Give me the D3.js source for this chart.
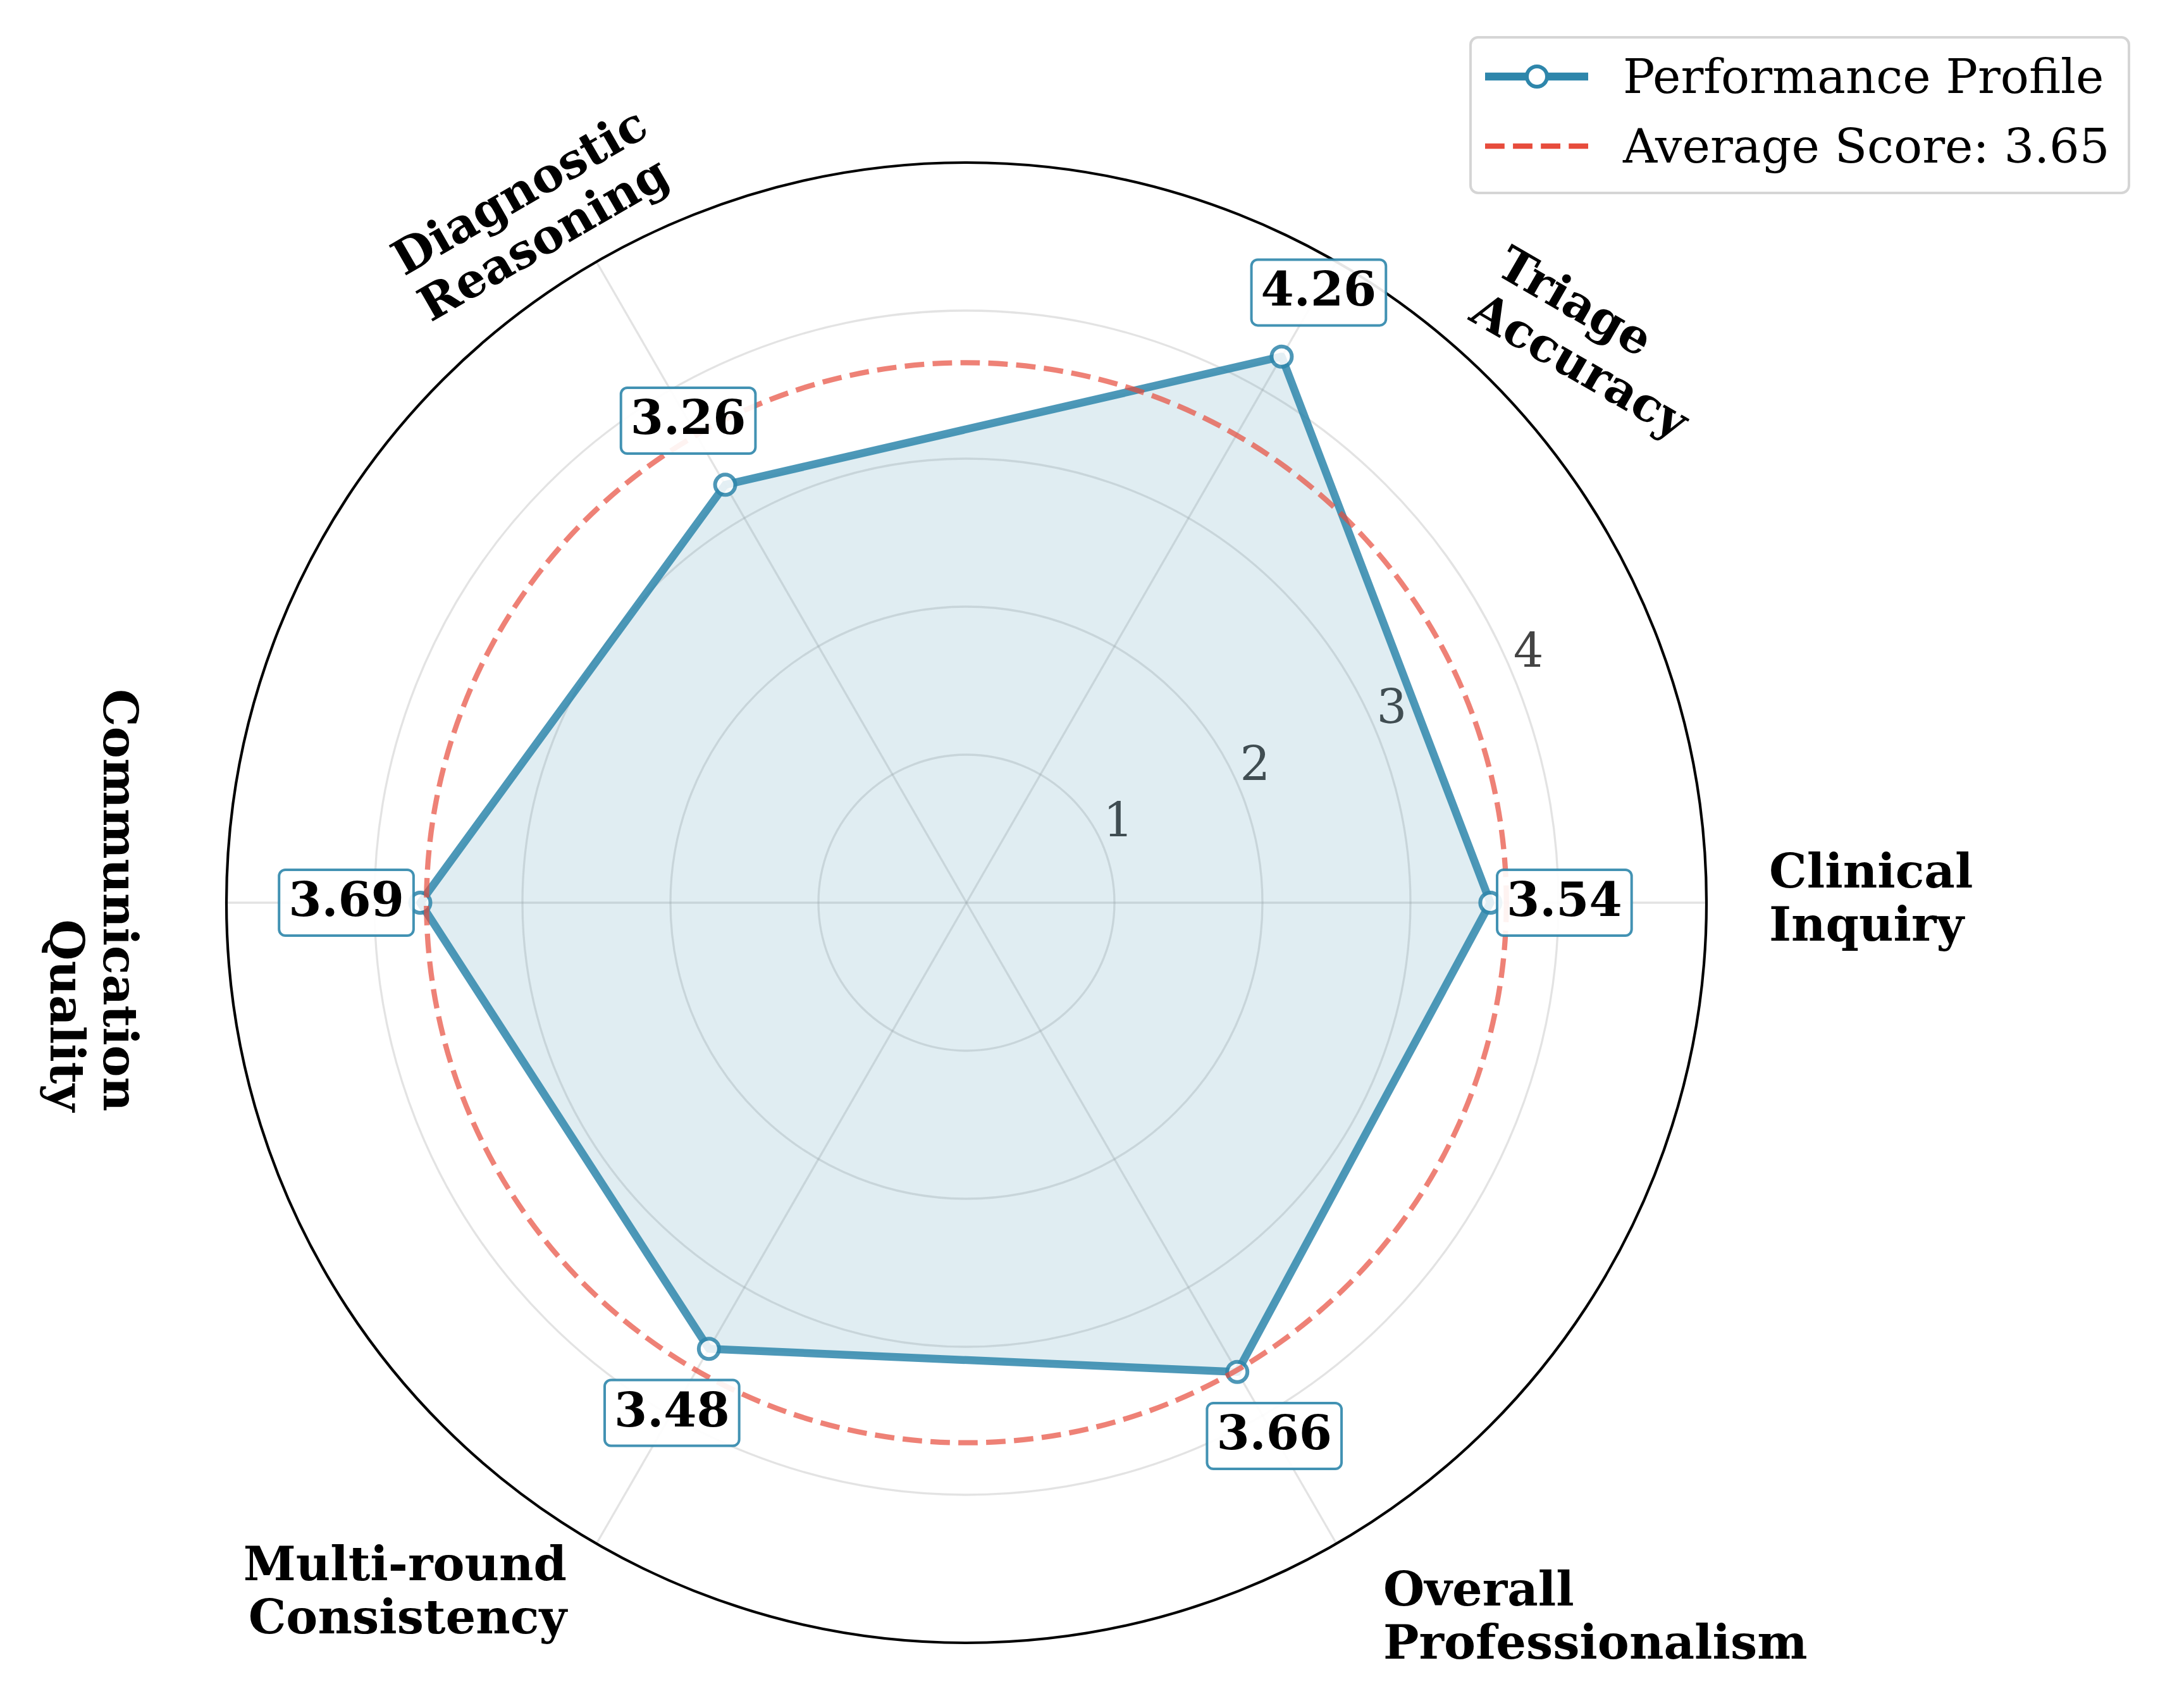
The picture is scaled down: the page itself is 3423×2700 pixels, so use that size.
<!DOCTYPE html>
<html>
<head>
<meta charset="utf-8">
<script src="https://cdn.jsdelivr.net/npm/d3@7"></script>
<style>
  body { margin: 0; background: #fff; }
  text { font-family: "DejaVu Serif", serif; }
</style>
</head>
<body>
<svg id="chart" width="3423" height="2700"></svg>
<script>
// data
var categories = ['Clinical\nInquiry', 'Triage\nAccuracy', 'Diagnostic\nReasoning',
                  'Communication\nQuality', 'Multi-round\nConsistency', 'Overall\nProfessionalism']
var scores = [3.54, 4.26, 3.26, 3.69, 3.48, 3.66]
var radialTicks = [1, 2, 3, 4]
var averageScore = d3.mean(scores)

var blue = '#2E86AB'
var red = '#E74C3C'
var cx = 1528, cy = 1427, R = 1170

// where the category names sit (offset from centre, rotation, alignment)
var labelLayout = [
    {dx: 1269, dy: -24, rot: 0, anchor: 'start'},
    {dx: 834, dy: -995, rot: 30, anchor: 'start'},
    {dx: -889, dy: -990, rot: -30, anchor: 'start'},
    {dx: -1364, dy: 330, rot: 90, anchor: 'end'},
    {dx: -632, dy: 1071, rot: 0, anchor: 'end'},
    {dx: 659, dy: 1111, rot: 0, anchor: 'start'}
]

var svg = d3.select('#chart')
svg.append('rect').attr('width', 3423).attr('height', 2700).attr('fill', '#fff')

var g = svg.append('g').attr('transform', 'translate(' + cx + ',' + cy + ')')

var r = d3.scaleLinear().domain([0, 5]).range([0, R])
var angle = d3.scaleLinear().domain([0, categories.length]).range([0, 2 * Math.PI])

function px(i, v) { return r(v) * Math.cos(angle(i)) }
function py(i, v) { return -r(v) * Math.sin(angle(i)) }

// grid rings and spokes
g.selectAll('.ring')
    .data(radialTicks)
    .enter()
    .append('circle')
    .attr('r', function(d) { return r(d) })
    .attr('fill', 'none')
    .attr('stroke', '#b0b0b0')
    .attr('stroke-opacity', 0.35)
    .attr('stroke-width', 3.3)

g.selectAll('.spoke')
    .data(categories)
    .enter()
    .append('line')
    .attr('x1', 0).attr('y1', 0)
    .attr('x2', function(d, i) { return px(i, 5) })
    .attr('y2', function(d, i) { return py(i, 5) })
    .attr('stroke', '#b0b0b0')
    .attr('stroke-opacity', 0.35)
    .attr('stroke-width', 3.3)

// radial tick labels at 22.5 deg
var tickAngle = 22.5 * Math.PI / 180
g.selectAll('.rtick')
    .data(radialTicks)
    .enter()
    .append('text')
    .attr('x', function(d) { return r(d) * Math.cos(tickAngle) })
    .attr('y', function(d) { return -r(d) * Math.sin(tickAngle) - 15 })
    .attr('font-size', 75)
    .attr('fill', '#444')
    .text(function(d) { return d })

// profile polygon
var points = scores.map(function(v, i) { return [px(i, v), py(i, v)] })
var line = d3.line().curve(d3.curveLinearClosed)

g.append('path')
    .attr('d', line(points))
    .attr('fill', blue)
    .attr('fill-opacity', 0.15)
    .attr('stroke', 'none')

g.append('path')
    .attr('d', line(points))
    .attr('fill', 'none')
    .attr('stroke', blue)
    .attr('stroke-opacity', 0.85)
    .attr('stroke-width', 12.5)
    .attr('stroke-linejoin', 'round')

g.selectAll('.dot')
    .data(points)
    .enter()
    .append('circle')
    .attr('cx', function(d) { return d[0] })
    .attr('cy', function(d) { return d[1] })
    .attr('r', 16)
    .attr('fill', '#fff')
    .attr('stroke', blue)
    .attr('stroke-width', 6)
    .attr('opacity', 0.85)

// average circle
g.append('circle')
    .attr('r', r(averageScore))
    .attr('fill', 'none')
    .attr('stroke', red)
    .attr('stroke-opacity', 0.7)
    .attr('stroke-width', 8.3)
    .attr('stroke-dasharray', '30.8,13.3')

// outer spine
g.append('circle')
    .attr('r', R)
    .attr('fill', 'none')
    .attr('stroke', '#000')
    .attr('stroke-width', 4.2)

// value labels in boxes
var vl = g.selectAll('.vlabel')
    .data(scores)
    .enter()
    .append('g')
    .attr('transform', function(d, i) {
        return 'translate(' + px(i, d + 0.5) + ',' + py(i, d + 0.5) + ')'
    })

vl.append('rect')
vl.append('text')
    .attr('text-anchor', 'middle')
    .attr('y', 21)
    .attr('font-size', 75)
    .attr('font-weight', 'bold')
    .attr('fill', '#000')
    .text(function(d) { return d.toFixed(2) })

vl.each(function() {
    var grp = d3.select(this)
    var bb = grp.select('text').node().getBBox()
    var w = bb.width + 30
    grp.select('rect')
        .attr('x', -w / 2)
        .attr('y', -52)
        .attr('width', w)
        .attr('height', 104)
        .attr('rx', 10)
        .attr('fill', '#fff')
        .attr('fill-opacity', 0.9)
        .attr('stroke', blue)
        .attr('stroke-opacity', 0.9)
        .attr('stroke-width', 4)
})

// category labels
var cl = g.selectAll('.clabel')
    .data(categories)
    .enter()
    .append('text')
    .attr('transform', function(d, i) {
        var L = labelLayout[i]
        return 'translate(' + L.dx + ',' + L.dy + ') rotate(' + L.rot + ')'
    })
    .attr('text-anchor', function(d, i) { return labelLayout[i].anchor })
    .attr('font-size', 75)
    .attr('font-weight', 'bold')
    .attr('fill', '#000')

cl.selectAll('tspan')
    .data(function(d) { return d.split('\n') })
    .enter()
    .append('tspan')
    .attr('x', 0)
    .attr('y', function(d, j) { return j * 84 })
    .text(function(d) { return d })

// legend
var lg = svg.append('g')
lg.append('rect')
    .attr('x', 2325).attr('y', 59)
    .attr('width', 1041).attr('height', 246)
    .attr('rx', 12)
    .attr('fill', '#fff')
    .attr('fill-opacity', 0.8)
    .attr('stroke', '#d5d5d5')
    .attr('stroke-width', 4)

lg.append('line')
    .attr('x1', 2348).attr('x2', 2511)
    .attr('y1', 121).attr('y2', 121)
    .attr('stroke', blue)
    .attr('stroke-width', 12.5)
lg.append('circle')
    .attr('cx', 2430).attr('cy', 121).attr('r', 16)
    .attr('fill', '#fff')
    .attr('stroke', blue)
    .attr('stroke-width', 6)
lg.append('text')
    .attr('x', 2566).attr('y', 147)
    .attr('font-size', 75)
    .text('Performance Profile')

lg.append('line')
    .attr('x1', 2348).attr('x2', 2511)
    .attr('y1', 231).attr('y2', 231)
    .attr('stroke', red)
    .attr('stroke-width', 8.3)
    .attr('stroke-dasharray', '30.8,13.3')
lg.append('text')
    .attr('x', 2566).attr('y', 257)
    .attr('font-size', 75)
    .text('Average Score: ' + averageScore.toFixed(2))
</script>
</body>
</html>
